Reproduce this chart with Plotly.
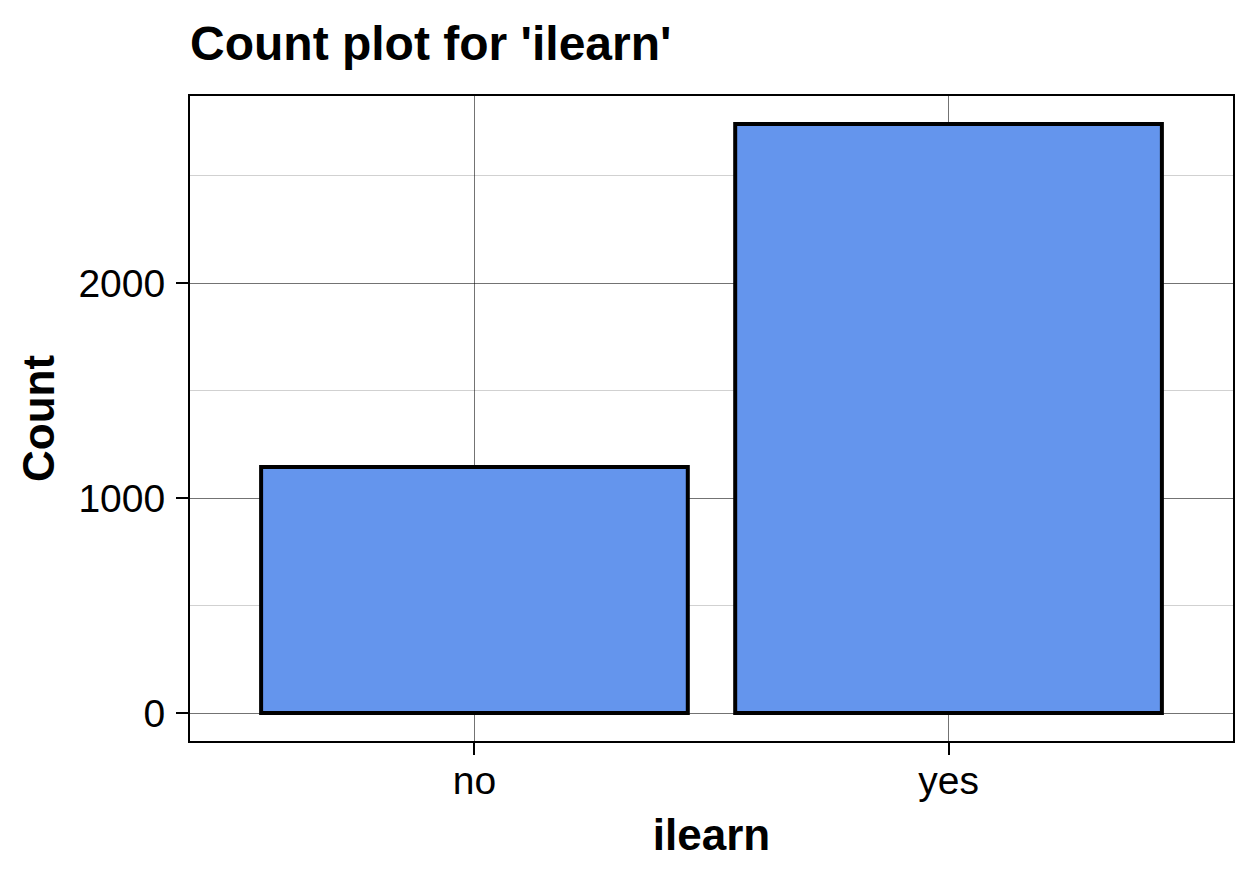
import plotly.graph_objects as go

categories = ["no", "yes"]
counts = [1144, 2740]

fig = go.Figure(go.Bar(
    x=categories,
    y=counts,
    width=0.9,
    marker=dict(color="#6495ED", line=dict(color="black", width=4)),
))

font_family = "Liberation Sans, Arial, sans-serif"

# page body adds ~8px offset, so margins are nudged to land the frame in place
fig.update_layout(
    width=1259, height=881,
    margin=dict(l=182, r=34, t=88, b=148),
    paper_bgcolor="white", plot_bgcolor="white",
    font=dict(family=font_family, color="black"),
    showlegend=False,
    title=dict(text="<b>Count plot for 'ilearn'</b>", font=dict(size=48),
               x=182 / 1259, xanchor="left", xref="container",
               y=1 - 35 / 881, yanchor="middle", yref="container"),
)

fig.update_xaxes(
    range=[-0.6, 1.6],
    title=dict(text="<b>ilearn</b>", font=dict(size=44), standoff=18),
    tickfont=dict(size=39),
    ticklabelstandoff=-8,
    showline=True, linecolor="black", linewidth=2, mirror=True,
    ticks="outside", ticklen=12, tickwidth=2, tickcolor="black",
    showgrid=True, gridcolor="rgba(0,0,0,0.55)", gridwidth=1,
)

fig.update_yaxes(
    range=[-130, 2870],
    tickvals=[0, 1000, 2000],
    title=dict(text="<b>Count</b>", font=dict(size=44), standoff=10),
    tickfont=dict(size=39),
    ticklabelstandoff=3,
    showline=True, linecolor="black", linewidth=2, mirror=True,
    ticks="outside", ticklen=12, tickwidth=2, tickcolor="black",
    showgrid=True, gridcolor="rgba(0,0,0,0.55)", gridwidth=1,
    zeroline=False,
    minor=dict(tickvals=[500, 1500, 2500], showgrid=True,
               gridcolor="rgba(0,0,0,0.18)", gridwidth=1, ticks=""),
)

fig.write_html("out.html")
